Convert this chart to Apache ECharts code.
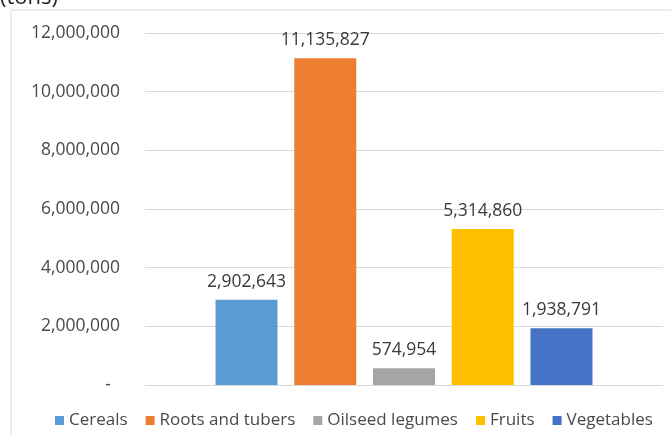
<!DOCTYPE html>
<html>
<head>
<meta charset="utf-8">
<script src="https://cdn.jsdelivr.net/npm/echarts@6/dist/echarts.min.js"></script>
<style>
  html, body { margin: 0; padding: 0; background: #fff; }
  #chart { width: 671px; height: 434px; }
</style>
</head>
<body>
<div id="chart"></div>
<script>
  // production by crop group (tons)
  var seriesNames = ['Cereals', 'Roots and tubers', 'Oilseed legumes', 'Fruits', 'Vegetables'];
  var seriesValues = [2902643, 11135827, 574954, 5314860, 1938791];
  var colorList = ['#5B9BD5', '#ED7D31', '#A5A5A5', '#FFC000', '#4472C4'];
  var yTicks = [0, 2000000, 4000000, 6000000, 8000000, 10000000, 12000000];

  var fontFamily = '"Open Sans", "Liberation Sans", sans-serif';

  function fmt(v) {
    if (v === 0) {
      return '-  ';
    }
    return v.toLocaleString('en-US');
  }

  var chart = echarts.init(document.getElementById('chart'));

  chart.setOption({
    animation: false,
    textStyle: { fontFamily: fontFamily },
    graphic: [
      {
        type: 'rect',
        shape: { x: 11, y: 10, width: 800, height: 600 },
        style: { fill: 'none', stroke: '#d9d9d9', lineWidth: 1 },
        z: -1
      },
      {
        type: 'text',
        left: 0,
        top: -13,
        style: { text: '(tons)', font: '22px ' + fontFamily, fill: '#222' }
      }
    ],
    legend: {
      bottom: 0,
      left: 50,
      itemWidth: 9,
      itemHeight: 9,
      itemGap: 18,
      icon: 'rect',
      textStyle: { color: '#4a4a4a', fontSize: 17, fontFamily: fontFamily },
      data: seriesNames
    },
    grid: {
      left: 145,
      right: 8,
      top: 33,
      bottom: 49
    },
    xAxis: {
      type: 'category',
      data: [''],
      axisLine: { show: false },
      axisTick: { show: false },
      axisLabel: { show: false }
    },
    yAxis: {
      type: 'value',
      min: yTicks[0],
      max: yTicks[yTicks.length - 1],
      interval: yTicks[1] - yTicks[0],
      axisLine: { show: false },
      axisTick: { show: false },
      splitLine: { lineStyle: { color: '#d9d9d9', width: 1 } },
      axisLabel: {
        margin: 25,
        color: '#4a4a4a',
        fontSize: 17.5,
        fontFamily: fontFamily,
        formatter: fmt
      }
    },
    series: seriesNames.map(function (name, i) {
      return {
        name: name,
        type: 'bar',
        barWidth: 62,
        barGap: '27%',
        itemStyle: { color: colorList[i] },
        data: [seriesValues[i]],
        label: {
          show: true,
          position: 'top',
          distance: 9,
          color: '#3a3a3a',
          fontSize: 17.5,
          fontFamily: fontFamily,
          formatter: function (p) { return p.value.toLocaleString('en-US'); }
        }
      };
    })
  });
</script>
</body>
</html>
